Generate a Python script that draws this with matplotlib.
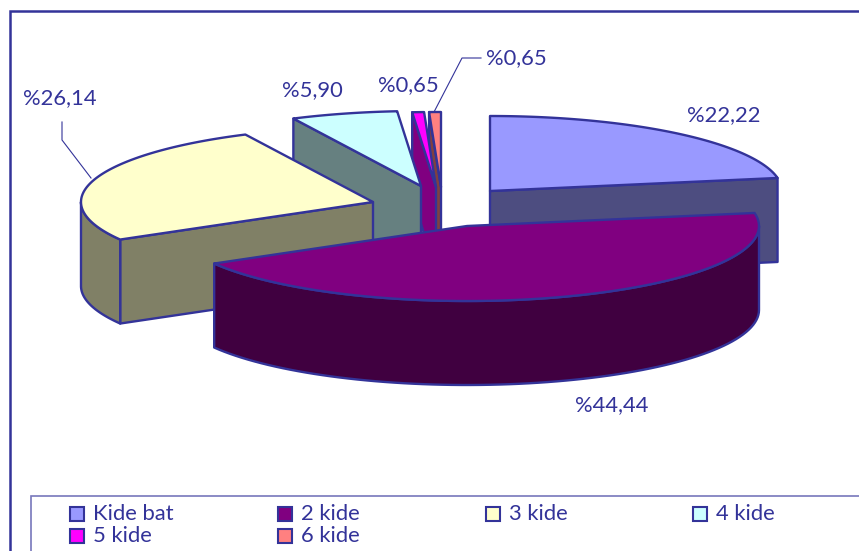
import numpy as np
import matplotlib
matplotlib.use("Agg")
import matplotlib.pyplot as plt
from matplotlib.patches import Polygon, Rectangle

# data
kinds = ["Kide bat", "2 kide", "3 kide", "4 kide", "5 kide", "6 kide"]
shares = [22.22, 44.44, 26.14, 5.90, 0.65, 0.65]
share_labels = ["%22,22", "%44,44", "%26,14", "%5,90", "%0,65", "%0,65"]

# styles / layout (pixel coords of the picture)
colors = ["#9999FF", "#800080", "#FFFFCC", "#CCFFFF", "#FF00FF", "#FF8080"]
apex = [(490, 191), (467, 226), (373, 202), (421, 186), (436, 187), (441, 187)]
label_pos = [(724, 115), (612, 405), (60, 98), (312, 90), (408, 85), (516, 58)]
legend_x = [70, 278, 486, 693]
legend_y = [514, 536]
RX, RY, DEPTH = 292, 75, 84
EDGE = "#333399"
FONT = "Lato"

plt.rcParams["font.family"] = [FONT, "DejaVu Sans"]

fig = plt.figure(figsize=(8.59, 5.51), dpi=100)
ax = fig.add_axes([0, 0, 1, 1])
ax.set_xlim(0, 859)
ax.set_ylim(551, 0)
ax.axis("off")


def rim(i, theta):
    # theta in degrees, clockwise from 12 o'clock
    t = np.radians(theta)
    return apex[i][0] + RX * np.sin(t), apex[i][1] - RY * np.cos(t)


def darker(c):
    rgb = np.array(matplotlib.colors.to_rgb(c)) * 0.5
    return tuple(rgb)


def draw_slice(i, start, end):
    side = darker(colors[i])
    ax_, ay_ = apex[i]

    # flat cut faces, only when they look toward the viewer
    for th, sign in ((start, -1), (end, 1)):
        if np.cos(np.radians(th + sign * 90)) < -1e-6:
            x, y = rim(i, th)
            ax.add_patch(Polygon([(ax_, ay_), (x, y), (x, y + DEPTH), (ax_, ay_ + DEPTH)],
                                 fc=side, ec=EDGE, lw=1.7, joinstyle="round"))

    # outer wall, the part of the rim in front
    a0, a1 = max(start, 90), min(end, 270)
    if a1 > a0:
        th = np.linspace(a0, a1, 80)
        x, y = rim(i, th)
        pts = list(zip(x, y)) + list(zip(x[::-1], y[::-1] + DEPTH))
        ax.add_patch(Polygon(pts, fc=side, ec=EDGE, lw=1.7, joinstyle="round"))

    # top
    th = np.linspace(start, end, 120)
    x, y = rim(i, th)
    pts = [(ax_, ay_)] + list(zip(x, y))
    ax.add_patch(Polygon(pts, fc=colors[i], ec=EDGE, lw=1.7, joinstyle="round"))


edges = np.concatenate([[0], np.cumsum(shares) / np.sum(shares) * 360])

# back to front
for i in (5, 4, 3, 0, 2, 1):
    draw_slice(i, edges[i], edges[i + 1])

# outer frame and legend box, both run off the picture
ax.plot([10, 10, 859], [551, 11, 11], color=EDGE, lw=1.8, solid_joinstyle="miter")
ax.plot([31, 31, 859], [551, 496, 496], color="#7777BB", lw=1.2, solid_joinstyle="miter")

# leader lines
ax.plot([481, 462, 434], [58, 58, 112], color=EDGE, lw=0.8)
ax.plot([62, 62, 91], [122, 140, 178], color=EDGE, lw=0.8)

for lab, (x, y) in zip(share_labels, label_pos):
    ax.text(x, y, lab, color=EDGE, fontsize=15.8, ha="center", va="center")

for i, name in enumerate(kinds):
    lx = legend_x[i % 4]
    ly = legend_y[i // 4]
    ax.add_patch(Rectangle((lx, ly - 7), 14, 14, fc=colors[i], ec=EDGE, lw=1.5))
    ax.text(lx + 23, ly, name, color=EDGE, fontsize=15.8, ha="left", va="center")

fig.savefig("out.png", dpi=100, facecolor="white")
